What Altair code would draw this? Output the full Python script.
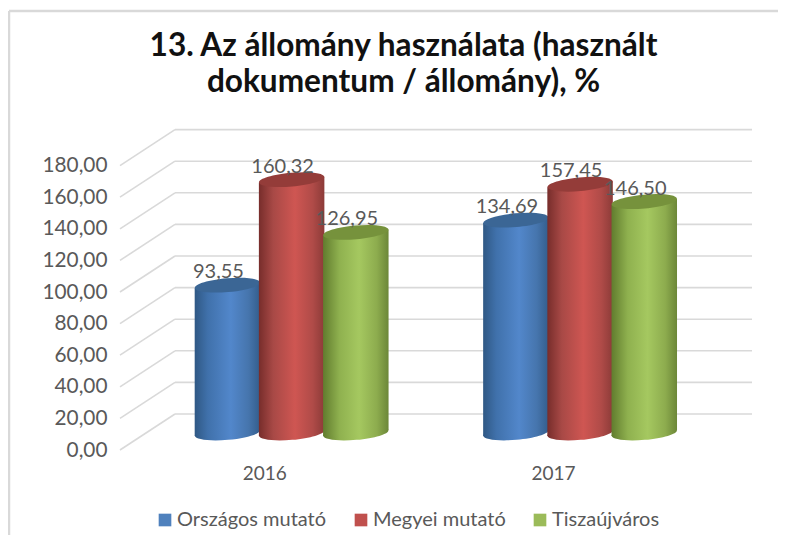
import altair as alt
import pandas as pd

# ---- values
years = ["2016", "2017"]
series = ["Országos mutató", "Megyei mutató", "Tiszaújváros"]
values = {
    "Országos mutató": [93.55, 134.69],
    "Megyei mutató": [160.32, 157.45],
    "Tiszaújváros": [126.95, 146.50],
}
ticks = [0, 20, 40, 60, 80, 100, 120, 140, 160, 180]
legend_colors = ["#4f81bd", "#c0504d", "#9bbb59"]
top_colors = ["#3b6695", "#943c39", "#76923c"]
gradients = [
    [(0, "#2f5884"), (0.2, "#4071ab"), (0.55, "#5287cb"), (0.82, "#4675ad"), (1, "#335d8c")],
    [(0, "#772d2b"), (0.22, "#a84946"), (0.55, "#cf5652"), (0.82, "#b04b48"), (1, "#8c3b38")],
    [(0, "#617c2e"), (0.25, "#8fb14f"), (0.55, "#a5c860"), (0.82, "#8dac4e"), (1, "#6c8738")],
]

# ---- 3D-look geometry, in axis units
PX = 1.58               # pixels per value unit
WALL_LIFT = 36 / PX     # back wall above the front plane
BAR_LIFT = 17 / PX      # cylinders stand midway
XU = 288.5              # pixels per category step on the cylinder plane
X_MIN, X_MAX = -0.595, 1.596
WALL_X = X_MIN + 55 / XU
BAR_W = 65.5 / XU
TILT = 2.9 / PX
ELLIPSE = "M-1,0 A1,0.21 0 1 1 1,0 A1,0.21 0 1 1 -1,0 Z"
FONT = "Lato"
GREY = "#595959"

xs = alt.Scale(domain=[X_MIN, X_MAX], nice=False, zero=False)
ys = alt.Scale(domain=[0, 320 / PX], nice=False, zero=False)
x_axis = alt.Axis(
    values=[-0.095, 0.906], title=None, domain=False, ticks=False, grid=False,
    labelExpr=f"datum.value < 0.5 ? '{years[0]}' : '{years[1]}'",
    labelFont=FONT, labelFontSize=19, labelColor=GREY, labelPadding=14)
y_axis = alt.Axis(
    values=ticks, title=None, domain=False, ticks=False, grid=False,
    labelExpr="replace(format(datum.value, '.2f'), '.', ',')",
    labelFont=FONT, labelFontSize=20.8, labelColor=GREY, labelPadding=13)
X = lambda f: alt.X(f, type="quantitative", scale=xs, axis=x_axis)
Y = lambda f: alt.Y(f, type="quantitative", scale=ys, axis=y_axis)

wall = pd.DataFrame({"v": [t + WALL_LIFT for t in ticks], "x": WALL_X, "x2": X_MAX})
back = alt.Chart(wall).mark_rule(color="#d9d9d9", strokeWidth=1.6).encode(
    x=X("x"), x2="x2", y=Y("v"))

diag = pd.DataFrame(
    [{"t": t, "x": X_MIN, "v": t} for t in ticks]
    + [{"t": t, "x": WALL_X, "v": t + WALL_LIFT} for t in ticks]
)
side = alt.Chart(diag).mark_line(color="#d9d9d9", strokeWidth=1.6).encode(
    x=X("x"), y=Y("v"), detail="t:N")

# legend carrier
leg = pd.DataFrame({"s": series, "x": [X_MIN] * 3, "v": [0] * 3})
legend_layer = alt.Chart(leg).mark_square(size=0, opacity=1).encode(
    x=X("x"), y=Y("v"),
    color=alt.Color("s:N", scale=alt.Scale(domain=series, range=legend_colors),
                    legend=alt.Legend(
                        title=None, orient="none", legendX=35, legendY=380, direction="horizontal",
                        symbolType="square", symbolSize=160, symbolStrokeWidth=0, columnPadding=24,
                        labelFont=FONT, labelFontSize=20, labelColor=GREY, labelOffset=2)),
)

layers = [back, side, legend_layer]
label_rows = []
for yi, yr in enumerate(years):
    for si, s in enumerate(series):
        v = values[s][yi]
        cx = yi + (si - 1) * (64.2 / XU)
        left, right = cx - BAR_W / 2, cx + BAR_W / 2
        top = v + BAR_LIFT
        body = pd.DataFrame({
            "x": [left, right],
            "y": [top - TILT, top + TILT],
            "y2": [BAR_LIFT - TILT, BAR_LIFT + TILT],
        })
        grad = alt.Gradient(gradient="linear", x1=0, x2=1, y1=0, y2=0,
                            stops=[alt.GradientStop(offset=o, color=c) for o, c in gradients[si]])
        pt = pd.DataFrame({"x": [cx], "top": [top], "base": [BAR_LIFT]})
        layers.append(alt.Chart(pt).mark_point(
            shape=ELLIPSE, filled=True, size=4290, angle=355, fill=grad, opacity=1, strokeWidth=0
        ).encode(x=X("x"), y=Y("base")))
        layers.append(alt.Chart(body).mark_area(fill=grad, opacity=1, line=False).encode(
            x=X("x"), y=Y("y"), y2="y2"))
        layers.append(alt.Chart(pt).mark_point(
            shape=ELLIPSE, filled=True, size=4290, angle=355, fill=top_colors[si], opacity=1, strokeWidth=0
        ).encode(x=X("x"), y=Y("top")))
        label_rows.append({"x": cx, "top": top, "v": v})

labels = alt.Chart(pd.DataFrame(label_rows)).transform_calculate(
    txt="replace(format(datum.v, '.2f'), '.', ',')"
).mark_text(font=FONT, fontSize=20, color=GREY, dx=-9, dy=-13, baseline="middle", align="center").encode(
    x=X("x"), y=Y("top"), text="txt:N")
layers.append(labels)

# chart frame, drawn outside the plot area
frame_top = alt.Chart(pd.DataFrame({"a": [0]})).mark_rule(color="#d9d9d9", strokeWidth=2.5, clip=False).encode(
    x=alt.value(-111), x2=alt.value(658), y=alt.value(-119))
frame_left = alt.Chart(pd.DataFrame({"a": [0]})).mark_rule(color="#d9d9d9", strokeWidth=2.5, clip=False).encode(
    x=alt.value(-111), y=alt.value(-119), y2=alt.value(405))
layers += [frame_top, frame_left]

chart = alt.layer(*layers).properties(
    width=632, height=320,
    padding={"left": 112, "top": 122, "right": 26, "bottom": 85},
    autosize=alt.AutoSizeParams(type="none"),
    background="white",
    title=alt.TitleParams(
        text=["13. Az állomány használata (használt", "dokumentum / állomány), %"],
        font=FONT, fontSize=31.6, fontWeight="bold", color="#111111",
        anchor="middle", dx=-32.5, offset=-89, lineHeight=36),
).configure_view(stroke=None)

chart.save("out.html", embed_options={"renderer": "svg", "actions": False})
